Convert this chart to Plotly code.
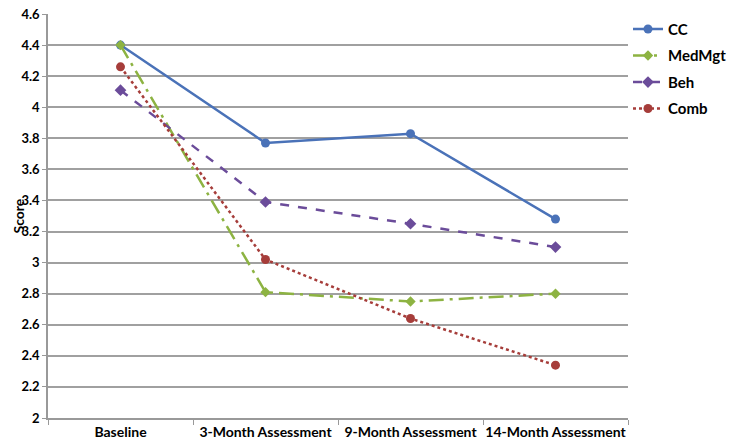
import plotly.graph_objects as go

categories = ["Baseline", "3-Month Assessment", "9-Month Assessment", "14-Month Assessment"]
cc = [4.40, 3.77, 3.83, 3.28]
medmgt = [4.40, 2.81, 2.75, 2.80]
beh = [4.11, 3.39, 3.25, 3.10]
comb = [4.26, 3.02, 2.64, 2.34]
y_ticks = [2, 2.2, 2.4, 2.6, 2.8, 3, 3.2, 3.4, 3.6, 3.8, 4, 4.2, 4.4, 4.6]
y_labels = ["2", "2.2", "2.4", "2.6", "2.8", "3", "3.2", "3.4", "3.6", "3.8", "4", "4.2", "4.4", "4.6"]

series = [
    ("CC", cc, "#4A72B8", "solid", "circle", 9),
    ("MedMgt", medmgt, "#8DB342", "longdashdot", "diamond", 8),
    ("Beh", beh, "#6B4C9A", "dash", "diamond", 9),
    ("Comb", comb, "#A63D3A", "dot", "circle", 9),
]

fig = go.Figure()
for name, vals, color, dash, sym, size in series:
    fig.add_trace(go.Scatter(
        x=categories, y=vals, name=name, mode="lines+markers",
        line=dict(color=color, width=2.5, dash=dash),
        marker=dict(color=color, symbol=sym, size=size),
        legendgroup=name,
    ))

font_family = "Lato, Carlito, 'Open Sans', sans-serif"
# the page body adds an 8px margin, so the figure is sized 735x434
fig.update_layout(
    width=735, height=434,
    margin=dict(l=40, r=115, t=6, b=24, autoexpand=False),
    paper_bgcolor="white", plot_bgcolor="white",
    font=dict(family=font_family, size=14, color="black"),
    showlegend=True,
    legend=dict(x=1.0, y=1.003, xanchor="left", yanchor="top",
                font=dict(size=15, family=font_family, color="black", weight="bold"),
                tracegroupgap=4, bgcolor="rgba(0,0,0,0)"),
    xaxis=dict(type="category", tickson="boundaries", ticks="outside", ticklen=5, tickangle=0,
               tickcolor="#999999", showline=True, linecolor="#999999", linewidth=1.5,
               showgrid=False, tickfont=dict(size=14, family=font_family, color="black", weight="bold"),
               range=[-0.5, 3.5]),
    yaxis=dict(range=[2, 4.6], tickvals=y_ticks, ticktext=y_labels, ticks="outside", ticklen=4,
               tickcolor="#999999", showline=True, linecolor="#999999", linewidth=1.5,
               showgrid=True, gridcolor="#A0A0A0", gridwidth=1.5, ticklabeloverflow="allow",
               tickfont=dict(size=13, family=font_family, color="black", weight="bold"),
               zeroline=False),
    annotations=[dict(text="<b>Score</b>", xref="paper", yref="paper", x=-0.069, y=0.5,
                      xanchor="left", yanchor="middle", textangle=-90, showarrow=False,
                      font=dict(size=14, family=font_family, color="black"))],
)

fig.write_html("out.html")
